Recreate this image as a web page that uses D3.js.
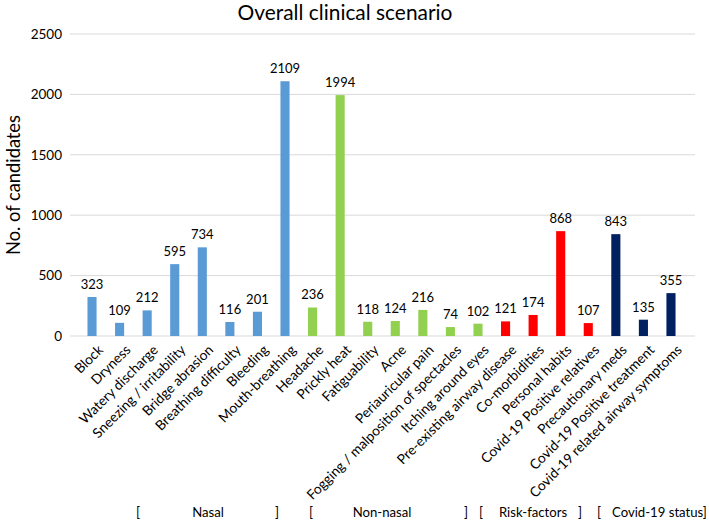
<!DOCTYPE html>
<html><head><meta charset="utf-8">
<script src="https://cdn.jsdelivr.net/npm/d3@7"></script>
<style>body{margin:0;background:#fff}svg{display:block}text{font-family:Lato,"Open Sans",sans-serif;fill:#000}</style>
</head><body><svg id="c" width="709" height="522"></svg>
<script>
const categories = ["Block","Dryness","Watery discharge","Sneezing / irritability","Bridge abrasion","Breathing difficulty","Bleeding","Mouth-breathing","Headache","Prickly heat","Fatiguability","Acne","Periauricular pain","Fogging / malposition of spectacles","Itching around eyes","Pre-existing airway disease","Co-morbidities","Personal habits","Covid-19 Positive relatives","Precautionary meds","Covid-19 Positive treatment","Covid-19 related airway symptoms"];
const values = [323,109,212,595,734,116,201,2109,236,1994,118,124,216,74,102,121,174,868,107,843,135,355];
const groups = ["Nasal","Nasal","Nasal","Nasal","Nasal","Nasal","Nasal","Nasal","Non-nasal","Non-nasal","Non-nasal","Non-nasal","Non-nasal","Non-nasal","Non-nasal","Risk-factors","Risk-factors","Risk-factors","Risk-factors","Covid-19 status","Covid-19 status","Covid-19 status"];
const groupNames = ["Nasal","Non-nasal","Risk-factors","Covid-19 status"];
const groupColors = ["#5B9BD5","#92D050","#FF0000","#002060"];
const yTicks = [0,500,1000,1500,2000,2500];
const title = "Overall clinical scenario";
const yTitle = "No. of candidates";

const svg = d3.select("#c");
const L = 69, R = 694, T = 34, B = 336;
const x = d3.scaleBand().domain(categories).range([L, R]).padding(0.67);
const y = d3.scaleLinear().domain([0, 2500]).range([B, T]);
const color = d3.scaleOrdinal().domain(groupNames).range(groupColors);

// size a font so that a sample text has the target width
function fitSize(sample, target, base) {
  const t = svg.append("text").style("font-size", base + "px").text(sample);
  const l = t.node().getComputedTextLength();
  t.remove();
  return base * target / l;
}
const titleSize = fitSize(title, 215, 20);
const yTitleSize = fitSize(yTitle, 140, 17);
const xLabSize = fitSize("Fogging / malposition of spectacles", 212, 12.5);
const grpSize = fitSize("Covid-19 status]", 95, 13);
const valSize = 13;
const tickSize = 13.5;

// gridlines
svg.append("g").selectAll("line").data(yTicks).join("line")
  .attr("x1", L+1).attr("x2", R+1).attr("y1", d=>y(d)).attr("y2", d=>y(d))
  .attr("stroke", "#d9d9d9").attr("stroke-width", 1);

// y axis labels
const yAxis = svg.append("g").attr("transform", `translate(${L-7},0)`)
  .call(d3.axisLeft(y).tickValues(yTicks).tickFormat(d3.format("d")).tickSize(0).tickPadding(0));
yAxis.select(".domain").remove();
yAxis.selectAll("text").style("font-size", tickSize+"px").style("font-family","Lato, sans-serif").attr("fill","#000");

// bars
svg.append("g").selectAll("rect").data(categories).join("rect")
  .attr("x", d=>x(d)).attr("width", x.bandwidth())
  .attr("y", (d,i)=>y(values[i])).attr("height", (d,i)=>y(0)-y(values[i]))
  .attr("fill", (d,i)=>color(groups[i]));

// value labels
svg.append("g").selectAll("text").data(categories).join("text")
  .attr("x", d=>x(d)+x.bandwidth()/2).attr("y", (d,i)=>y(values[i])-8)
  .attr("text-anchor","middle").style("font-size", valSize+"px").text((d,i)=>values[i]);

// x labels
svg.append("g").selectAll("text").data(categories).join("text")
  .attr("transform", d=>`translate(${x(d)+x.bandwidth()/2+5},${B+8}) rotate(-45)`)
  .attr("text-anchor","end").attr("dy","0.7em").style("font-size", xLabSize+"px").text(d=>d);

// titles
svg.append("text").attr("x", 345).attr("y", 20).attr("text-anchor","middle")
  .style("font-size", titleSize+"px").text(title);
svg.append("text").attr("transform", `translate(14,${(T+B)/2}) rotate(-90)`)
  .attr("text-anchor","middle").attr("dy","0.35em").style("font-size", yTitleSize+"px").text(yTitle);

// group brackets
const gl = svg.append("g").style("font-size", grpSize+"px");
const items = [["[",138,"middle"],["Nasal",208,"middle"],["]",277,"middle"],["[",311,"middle"],["Non-nasal",382,"middle"],["]",466,"middle"],["[",481,"middle"],["Risk-factors",533,"middle"],["]",580,"middle"],["[",599,"middle"],["Covid-19 status]",612,"start"]];
gl.selectAll("text").data(items).join("text")
  .attr("x", d=>d[1]).attr("y", 517).attr("text-anchor", d=>d[2]).text(d=>d[0]);
</script></body></html>
